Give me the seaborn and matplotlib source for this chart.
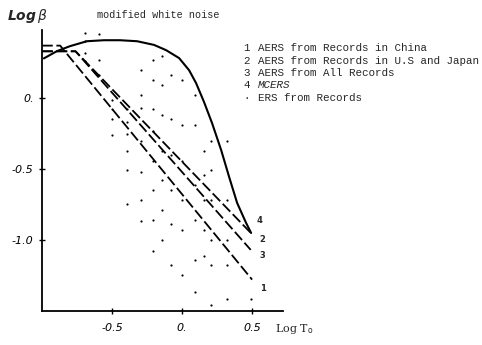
import matplotlib
matplotlib.use("Agg")
import matplotlib.pyplot as plt
import numpy as np
import pandas as pd
import seaborn as sns

# curve 4: MCERS (solid)
mcers_x = [-0.986, -0.893, -0.80, -0.679, -0.557, -0.443, -0.321, -0.20, -0.114, -0.021,
           0.05, 0.10, 0.157, 0.214, 0.279, 0.336, 0.393, 0.457, 0.493]
mcers_y = [0.28, 0.331, 0.366, 0.401, 0.408, 0.408, 0.401, 0.375, 0.338, 0.282,
           0.197, 0.106, -0.028, -0.176, -0.366, -0.556, -0.739, -0.88, -0.951]

# AERS curves (dashed): plateau then straight decline
aers1_x = [-1.0, -0.87, 0.50]
aers1_y = [0.37, 0.37, -1.28]
aers2_x = [-1.0, -0.76, 0.49]
aers2_y = [0.33, 0.33, -0.95]
aers3_x = [-1.0, -0.76, 0.49]
aers3_y = [0.33, 0.33, -1.07]

# ERS from records, read column by column
ers_x = ([-0.69] * 4 + [-0.59] * 3 + [-0.50] * 4 + [-0.39] * 6 + [-0.29] * 7 + [-0.21] * 8
         + [-0.14] * 7 + [-0.08] * 6 + [0.0] * 6 + [0.09] * 6 + [0.16] * 5 + [0.21] * 6
         + [0.32] * 5 + [0.49])
ers_y = ([0.46, 0.40, 0.32, 0.26]
         + [0.45, 0.27, 0.16]
         + [-0.01, -0.08, -0.15, -0.26]
         + [-0.08, -0.17, -0.25, -0.37, -0.51, -0.75]
         + [0.20, 0.02, -0.07, -0.30, -0.52, -0.72, -0.87]
         + [0.27, 0.13, -0.08, -0.23, -0.44, -0.65, -0.86, -1.08]
         + [0.30, 0.09, -0.12, -0.37, -0.58, -0.79, -1.00]
         + [0.16, -0.15, -0.40, -0.65, -0.89, -1.18]
         + [0.13, -0.19, -0.44, -0.72, -0.93, -1.25]
         + [0.02, -0.19, -0.61, -0.86, -1.14, -1.37]
         + [-0.37, -0.54, -0.72, -0.93, -1.11]
         + [-0.30, -0.51, -0.72, -1.00, -1.18, -1.46]
         + [-0.30, -0.72, -1.00, -1.18, -1.42]
         + [-1.42])

legend_nums = ["1", "2", "3", "4", "\u00b7"]
legend_text = ["AERS from Records in China", "AERS from Records in U.S and Japan",
               "AERS from All Records", "MCERS", "ERS from Records"]
end_labels = ["4", "2", "3", "1"]
end_x = [0.53, 0.55, 0.55, 0.56]
end_y = [-0.86, -1.0, -1.11, -1.34]

sns.set_style("ticks")
fig = plt.figure(figsize=(4.82, 3.45), dpi=100)
ax = fig.add_axes([0.087, 0.099, 0.50, 0.814])

sns.scatterplot(x=ers_x, y=ers_y, ax=ax, color="black", s=2.5, linewidth=0)
sns.lineplot(x=mcers_x, y=mcers_y, ax=ax, color="black", lw=1.5, sort=False)
for xs, ys in [(aers1_x, aers1_y), (aers2_x, aers2_y), (aers3_x, aers3_y)]:
    sns.lineplot(x=xs, y=ys, ax=ax, color="black", lw=1.3, sort=False,
                 linestyle=(0, (6, 2)))

for t, x, y in zip(end_labels, end_x, end_y):
    ax.text(x, y, t, fontsize=6, fontweight="bold", ha="left", va="center")

ax.set_xlim(-1.0, 0.72)
ax.set_ylim(-1.5, 0.48)
ax.set_xticks([-0.5, 0.0, 0.5])
ax.set_xticklabels(["-0.5", "0.", "0.5"], fontsize=8, style="italic")
ax.set_yticks([0.0, -0.5, -1.0])
ax.set_yticklabels(["0.", "-0.5", "-1.0"], fontsize=8, style="italic")
ax.tick_params(direction="inout", length=5, width=1, colors="black")
ax.tick_params(axis="x", pad=6)
sns.despine(ax=ax)
for s in ["left", "bottom"]:
    ax.spines[s].set_linewidth(1.3)
    ax.spines[s].set_color("black")

fig.text(7 / 482, 1 - 16 / 345, r"Log$\,\beta$", fontsize=10, fontweight="bold", style="italic",
         ha="left", va="center")
fig.text(97 / 482, 1 - 15 / 345, "modified white noise", fontsize=7.3, family="Liberation Mono",
         ha="left", va="center")
fig.text(275 / 482, 1 - 329 / 345, r"Log T$_{\rm o}$", fontsize=8, family="DejaVu Serif",
         ha="left", va="center")

for i, (n, t) in enumerate(zip(legend_nums, legend_text)):
    yy = 1 - (48 + i * 12.5) / 345
    fig.text(243 / 482, yy, n, fontsize=7.8, family="Liberation Mono", ha="left", va="center")
    fig.text(258 / 482, yy, t, fontsize=7.8, family="Liberation Mono", ha="left", va="center",
             style="italic" if t == "MCERS" else "normal")

fig.savefig("out.png", dpi=100, facecolor="white")
